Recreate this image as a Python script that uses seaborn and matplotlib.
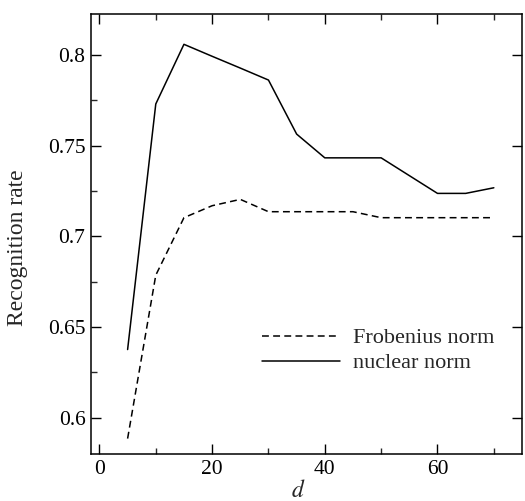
import numpy as np
import pandas as pd
import matplotlib
matplotlib.use('Agg')
from matplotlib import pyplot as plt
from matplotlib.ticker import MultipleLocator
import seaborn as sns

# data
d = [5, 10, 15, 20, 25, 30, 35, 40, 45, 50, 55, 60, 65, 70]
nuclear = [0.6376, 0.7730, 0.8059, 0.7993, 0.7928, 0.7862, 0.7564, 0.7433,
           0.7433, 0.7433, 0.7335, 0.7237, 0.7237, 0.7268]
frobenius = [0.5885, 0.6786, 0.7103, 0.7169, 0.7204, 0.7136, 0.7136, 0.7136,
             0.7136, 0.7103, 0.7103, 0.7103, 0.7103, 0.7103]
labels = ['Frobenius norm', 'nuclear norm']

df = pd.DataFrame({
    'd': d + d,
    'rate': frobenius + nuclear,
    'method': [labels[0]] * len(d) + [labels[1]] * len(d),
})

sns.set_style('ticks')
plt.rcParams['font.family'] = ['Liberation Serif', 'DejaVu Serif']
plt.rcParams['mathtext.fontset'] = 'stix'

fig = plt.figure(figsize=(5.25, 5.01), dpi=100)
ax = fig.add_axes([0.1733, 0.0938, 0.8210, 0.8782])

sns.lineplot(data=df, x='d', y='rate', style='method', style_order=labels,
             dashes={labels[0]: (4.5, 2.8), labels[1]: ''},
             color='k', linewidth=1.1, ax=ax)

ax.set_xlim(-1.5, 75)
ax.set_ylim(0.58, 0.8226)
ax.xaxis.set_major_locator(MultipleLocator(20))
ax.xaxis.set_minor_locator(MultipleLocator(10))
ax.yaxis.set_minor_locator(MultipleLocator(0.025))
ax.set_yticks([0.6, 0.65, 0.7, 0.75, 0.8])
ax.set_yticklabels(['0.6', '0.65', '0.7', '0.75', '0.8'])

ax.tick_params(which='major', direction='in', length=7.5, width=1.0,
               top=True, right=True, labelsize=15.5, pad=4, colors='k')
ax.tick_params(which='minor', direction='in', length=4, width=1.0,
               top=True, right=False)
for s in ax.spines.values():
    s.set_linewidth(1.1)
    s.set_color('k')

ax.set_xlabel('$d$', fontsize=17)
ax.xaxis.set_label_coords(0.48, -0.058)
ax.set_ylabel('Recognition rate', fontsize=17)
ax.yaxis.set_label_coords(-0.146, 0.47)

handles, _ = ax.get_legend_handles_labels()
ax.legend(handles[-2:], labels, frameon=False, fontsize=16,
          loc='center left', bbox_to_anchor=(0.397, 0.235),
          borderaxespad=0, borderpad=0, handlelength=3.5,
          handletextpad=0.6, labelspacing=0.2)

fig.savefig('out.png', dpi=100)
